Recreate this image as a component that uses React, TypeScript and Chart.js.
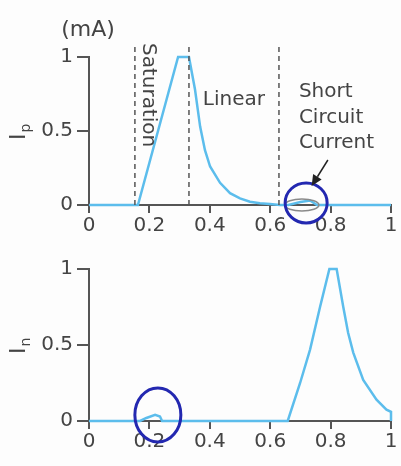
import React, { useEffect, useRef } from 'react';
import { Chart, registerables } from 'chart.js';
Chart.register(...registerables);

// ---- data ----
const xTicks = [0, 0.2, 0.4, 0.6, 0.8, 1];
const yTicks = [0, 0.5, 1];

const topX = [0, 0.162, 0.295, 0.331, 0.351, 0.368, 0.384, 0.401, 0.434, 0.467, 0.5, 0.533, 0.566, 0.599, 0.632, 0.66, 0.70, 0.732, 0.755, 1];
const topY = [0, 0, 1, 1, 0.78, 0.53, 0.37, 0.26, 0.15, 0.08, 0.045, 0.022, 0.012, 0.006, 0, 0, 0.02, 0.03, 0, 0];

const botX = [0, 0.169, 0.19, 0.219, 0.235, 0.242, 0.658, 0.699, 0.732, 0.765, 0.796, 0.82, 0.842, 0.858, 0.875, 0.908, 0.952, 0.985, 1, 1];
const botY = [0, 0, 0.02, 0.04, 0.03, 0, 0, 0.25, 0.47, 0.75, 1, 1, 0.75, 0.58, 0.45, 0.27, 0.14, 0.075, 0.06, 0];

const regionBounds = [0.152, 0.331, 0.629];
const regionTop = 1.095;

const topTexts = [
  { text: '(mA)', x: -0.092, y: 1.18, size: 22 },
  { text: 'Saturation', x: 0.197, y: 1.095, rotate: 90 },
  { text: 'Linear', x: 0.377, y: 0.71 },
  { text: 'Short', x: 0.695, y: 0.764 },
  { text: 'Circuit', x: 0.695, y: 0.59 },
  { text: 'Current', x: 0.695, y: 0.42 },
];
const topArrow = { from: [0.791, 0.304], to: [0.737, 0.128] };
const topMarks = [
  { x: 0.705, y: 0.0, rx: 17, ry: 6, color: '#8a8a8a', width: 1.5 },
  { x: 0.719, y: 0.014, rx: 21, ry: 20, color: '#2328b0', width: 3 },
];
const botMarks = [{ x: 0.228, y: 0.04, rx: 23, ry: 27, color: '#2328b0', width: 3 }];

const FONT = 'DejaVu Sans';
const TEXT = '#444';
const CURVE = '#5cbdec';

const annotPlugin = {
  id: 'annot',
  afterDatasetsDraw(chart: any, _a: any, opts: any) {
    const ctx = chart.ctx;
    const xs = chart.scales.x;
    const ys = chart.scales.y;
    const px = (v: number) => xs.getPixelForValue(v);
    const py = (v: number) => ys.getPixelForValue(v);
    ctx.save();
    for (const m of opts.marks || []) {
      ctx.beginPath();
      ctx.ellipse(px(m.x), py(m.y), m.rx, m.ry, 0, 0, Math.PI * 2);
      ctx.strokeStyle = m.color;
      ctx.lineWidth = m.width;
      ctx.stroke();
    }
    for (const t of opts.texts || []) {
      ctx.save();
      ctx.font = `${t.size || 20}px "${FONT}"`;
      ctx.fillStyle = TEXT;
      ctx.translate(px(t.x), py(t.y));
      if (t.rotate) ctx.rotate((t.rotate * Math.PI) / 180);
      ctx.textAlign = 'left';
      ctx.textBaseline = 'middle';
      ctx.fillText(t.text, 0, 0);
      ctx.restore();
    }
    if (opts.arrow) {
      const x1 = px(opts.arrow.from[0]), y1 = py(opts.arrow.from[1]);
      const x2 = px(opts.arrow.to[0]), y2 = py(opts.arrow.to[1]);
      const ang = Math.atan2(y2 - y1, x2 - x1);
      const hl = 11, hw = 5;
      const bx = x2 - hl * Math.cos(ang), by = y2 - hl * Math.sin(ang);
      ctx.strokeStyle = '#222';
      ctx.lineWidth = 1.5;
      ctx.beginPath();
      ctx.moveTo(x1, y1);
      ctx.lineTo(bx, by);
      ctx.stroke();
      ctx.fillStyle = '#222';
      ctx.beginPath();
      ctx.moveTo(x2, y2);
      ctx.lineTo(bx + hw * Math.sin(ang), by - hw * Math.cos(ang));
      ctx.lineTo(bx - hw * Math.sin(ang), by + hw * Math.cos(ang));
      ctx.closePath();
      ctx.fill();
    }
    // y title with subscript
    if (opts.yTitle) {
      const ca = chart.chartArea;
      ctx.save();
      ctx.translate(ca.left - 64, (ca.top + ca.bottom) / 2 + 9);
      ctx.rotate(-Math.PI / 2);
      ctx.fillStyle = TEXT;
      ctx.textAlign = 'left';
      ctx.textBaseline = 'alphabetic';
      ctx.font = `22px "${FONT}"`;
      ctx.fillText(opts.yTitle[0], 0, 0);
      const w = ctx.measureText(opts.yTitle[0]).width;
      ctx.font = `14px "${FONT}"`;
      ctx.fillText(opts.yTitle[1], w + 1, 5);
      ctx.restore();
    }
    ctx.restore();
  },
};

function makeConfig(xs: number[], ys: number[], opts: any) {
  const datasets: any[] = [];
  (opts.bounds || []).forEach((b: number) => {
    datasets.push({
      data: [{ x: b, y: 0 }, { x: b, y: regionTop }],
      borderColor: '#555',
      borderWidth: 1.5,
      borderDash: [5, 4],
      pointRadius: 0,
      clip: false,
    });
  });
  datasets.push({
    data: xs.map((x, i) => ({ x, y: ys[i] })),
    borderColor: CURVE,
    borderWidth: 2.5,
    pointRadius: 0,
    tension: 0,
    clip: false,
  });
  const tickFont = { family: FONT, size: 20 };
  const fmt = (v: any) => String(Math.round(Number(v) * 10) / 10);
  return {
    type: 'line',
    data: { datasets },
    options: {
      animation: false,
      responsive: false,
      events: [],
      layout: { padding: { top: opts.top, right: 10, left: 0, bottom: 0 } },
      plugins: {
        legend: { display: false },
        tooltip: { enabled: false },
        annot: { texts: opts.texts, marks: opts.marks, arrow: opts.arrow, yTitle: opts.yTitle },
      },
      scales: {
        x: {
          type: 'linear',
          min: 0,
          max: 1,
          afterBuildTicks: (s: any) => { s.ticks = xTicks.map((v) => ({ value: v })); },
          afterFit: (s: any) => { s.height = opts.xh; },
          ticks: { color: TEXT, font: tickFont, padding: 1, maxRotation: 0, autoSkip: false, callback: fmt },
          grid: { display: true, drawOnChartArea: false, drawTicks: true, tickLength: 8, color: '#555', lineWidth: 2 },
          border: { display: true, color: '#555', width: 2 },
        },
        y: {
          type: 'linear',
          min: 0,
          max: 1,
          afterBuildTicks: (s: any) => { s.ticks = yTicks.map((v) => ({ value: v })); },
          afterFit: (s: any) => { s.width = 89; },
          ticks: { color: TEXT, font: tickFont, padding: 4, callback: fmt },
          grid: { display: true, drawOnChartArea: false, drawTicks: true, tickLength: 12, color: '#555', lineWidth: 2 },
          border: { display: true, color: '#555', width: 2 },
        },
      },
    },
    plugins: [annotPlugin],
  };
}

function Panel({ cfg, top }: { cfg: any; top: number }) {
  const ref = useRef<HTMLCanvasElement>(null);
  useEffect(() => {
    const chart = new Chart(ref.current as HTMLCanvasElement, cfg);
    return () => chart.destroy();
  }, []);
  return (
    <canvas
      ref={ref}
      width={401}
      height={233}
      style={{ position: 'absolute', left: 0, top, width: 401, height: 233 }}
    />
  );
}

export default function App() {
  const topCfg = makeConfig(topX, topY, {
    top: 57, xh: 28, bounds: regionBounds, texts: topTexts, marks: topMarks, arrow: topArrow, yTitle: ['I', 'p'],
  });
  const botCfg = makeConfig(botX, botY, {
    top: 36, xh: 45, bounds: [], texts: [], marks: botMarks, arrow: null, yTitle: ['I', 'n'],
  });
  return (
    <div style={{ position: 'absolute', left: 0, top: 0, width: 401, height: 466, background: '#fdfdfd', overflow: 'hidden' }}>
      <Panel cfg={topCfg} top={0} />
      <Panel cfg={botCfg} top={233} />
    </div>
  );
}
